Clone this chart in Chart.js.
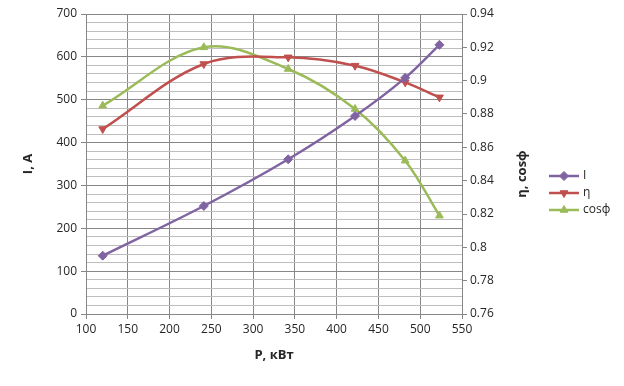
<!DOCTYPE html>
<html>
<head>
<meta charset="utf-8">
<script src="https://cdn.jsdelivr.net/npm/chart.js@4/dist/chart.umd.min.js"></script>
<style>
    html, body { margin: 0; padding: 0; background: #fff; }
    .wrap { position: relative; width: 624px; height: 386px; }
</style>
</head>
<body>
<div class="wrap"><canvas id="motorChart"></canvas></div>
<script>
/* DATA */

const powerKw = [120, 241, 342, 422, 482, 523]
const currentA = [136, 252, 361, 462, 551, 628]
const efficiency = [0.871, 0.910, 0.914, 0.909, 0.899, 0.890]
const powerFactor = [0.885, 0.920, 0.907, 0.883, 0.852, 0.819]

// light grid lines of the left axis (between the labelled hundreds)
const currentMinorTicks = [20, 40, 60, 80, 120, 140, 160, 180, 220, 240, 260, 280,
    320, 340, 360, 380, 420, 440, 460, 480, 520, 540, 560, 580, 620, 640, 660, 680]

const seriesNames = ['I', 'η', 'cosф']
const xTitle = 'P, кВт'
const leftTitle = 'I, A'
const rightTitle = 'η, cosф'

/* STYLE */

const FONT = '"Open Sans", "Liberation Sans", sans-serif'
const TEXT = '#262626'
const MAJOR = '#878787'
const MINOR = '#bdbdbd'

function pairs(xs, ys) {
    return xs.map((x, i) => ({ x, y: ys[i] }))
}

/* legend + right title drawn by hand (Excel-like look) */
const extrasPlugin = {
    id: 'extras',
    afterDraw(chart) {
        const ctx = chart.ctx
        ctx.save()

        // right axis title, reads bottom-to-top
        ctx.translate(522, 174)
        ctx.rotate(-Math.PI / 2)
        ctx.font = 'bold 13px ' + FONT
        ctx.fillStyle = TEXT
        ctx.textAlign = 'center'
        ctx.textBaseline = 'middle'
        ctx.fillText(rightTitle, 0, 0)
        ctx.restore()

        // legend
        const rows = [176, 193, 210]
        chart.data.datasets.forEach((ds, i) => {
            const y = rows[i]
            ctx.save()
            ctx.strokeStyle = ds.borderColor
            ctx.lineWidth = 2.5
            ctx.beginPath()
            ctx.moveTo(549, y)
            ctx.lineTo(579, y)
            ctx.stroke()
            ctx.fillStyle = ds.borderColor
            ctx.strokeStyle = ds.borderColor
            ctx.lineWidth = 1
            Chart.helpers.drawPoint(ctx, {
                pointStyle: ds.pointStyle,
                rotation: ds.pointRotation || 0,
                radius: ds.pointRadius,
                borderWidth: 1
            }, 564, y)
            ctx.font = '12px ' + FONT
            ctx.fillStyle = TEXT
            ctx.textAlign = 'left'
            ctx.textBaseline = 'middle'
            ctx.fillText(ds.label, 583, y)
            ctx.restore()
        })
    }
}

const lineStyle = {
    borderWidth: 2.5,
    pointRadius: 4.5,
    pointBorderWidth: 1,
    tension: 0.35,
    fill: false
}

new Chart(document.getElementById('motorChart'), {
    type: 'line',
    data: {
        datasets: [
            {
                ...lineStyle,
                label: seriesNames[0],
                data: pairs(powerKw, currentA),
                yAxisID: 'yLeft',
                borderColor: '#8064a2',
                backgroundColor: '#8064a2',
                pointStyle: 'rectRot'
            },
            {
                ...lineStyle,
                label: seriesNames[1],
                data: pairs(powerKw, efficiency),
                yAxisID: 'yRight',
                borderColor: '#c0504d',
                backgroundColor: '#c0504d',
                pointStyle: 'triangle',
                pointRotation: 180
            },
            {
                ...lineStyle,
                label: seriesNames[2],
                data: pairs(powerKw, powerFactor),
                yAxisID: 'yRight',
                borderColor: '#9bbb59',
                backgroundColor: '#9bbb59',
                pointStyle: 'triangle'
            }
        ]
    },
    options: {
        responsive: true,
        maintainAspectRatio: false,
        animation: false,
        layout: { padding: { left: 0, top: 14, right: 92, bottom: 0 } },
        plugins: {
            legend: { display: false },
            tooltip: { enabled: false }
        },
        scales: {
            x: {
                type: 'linear',
                min: 100,
                max: 550,
                afterFit: (s) => { s.height = 72 },
                ticks: {
                    stepSize: 50,
                    color: TEXT,
                    font: { family: FONT, size: 12 },
                    padding: 3,
                    maxRotation: 0
                },
                grid: { color: MAJOR, tickColor: MAJOR, tickLength: 5 },
                border: { color: MAJOR },
                title: {
                    display: true,
                    text: xTitle,
                    color: TEXT,
                    font: { family: FONT, size: 13, weight: 'bold' },
                    padding: { top: 0, bottom: 23 }
                }
            },
            yMinor: {
                type: 'linear',
                position: 'left',
                min: 0,
                max: 700,
                weight: 1,
                afterFit: (s) => { s.width = 0 },
                afterBuildTicks: (s) => {
                    s.ticks = currentMinorTicks.map((value) => ({ value }))
                },
                ticks: { display: false },
                grid: { color: MINOR, drawTicks: false },
                border: { display: false }
            },
            yLeft: {
                type: 'linear',
                position: 'left',
                min: 0,
                max: 700,
                weight: 0,
                afterFit: (s) => { s.width = 86 },
                ticks: {
                    stepSize: 100,
                    color: TEXT,
                    font: { family: FONT, size: 12 },
                    padding: 4
                },
                grid: { color: MAJOR, tickColor: MAJOR, tickLength: 5 },
                border: { color: MAJOR, z: 1 },
                title: {
                    display: true,
                    text: leftTitle,
                    color: TEXT,
                    font: { family: FONT, size: 13, weight: 'bold' },
                    padding: { top: 20, bottom: 0 }
                }
            },
            yRight: {
                type: 'linear',
                position: 'right',
                min: 0.76,
                max: 0.94,
                afterFit: (s) => { s.width = 70 },
                ticks: {
                    stepSize: 0.02,
                    color: TEXT,
                    font: { family: FONT, size: 12 },
                    padding: 3,
                    callback: (v) => String(+v.toFixed(2))
                },
                grid: { drawOnChartArea: false, color: MAJOR, tickColor: MAJOR, tickLength: 5 },
                border: { color: MAJOR }
            }
        }
    },
    plugins: [extrasPlugin]
})
</script>
</body>
</html>
